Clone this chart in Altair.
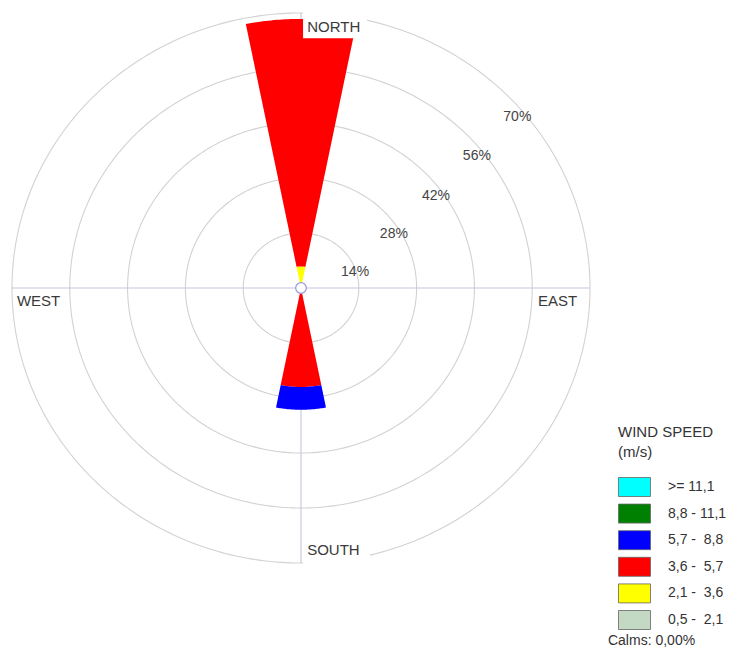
import altair as alt
import pandas as pd
import numpy as np

# ---------------- data ----------------
directions = ["N", "NNE", "NE", "ENE", "E", "ESE", "SE", "SSE",
              "S", "SSW", "SW", "WSW", "W", "WNW", "NW", "NNW"]

# speed classes, from the centre outwards
speed_bins = ["\u00a00,5 -\u00a0\u00a02,1", "\u00a02,1 -\u00a0\u00a03,6", "\u00a03,6 -\u00a0\u00a05,7",
              "\u00a05,7 -\u00a0\u00a08,8", "\u00a08,8 - 11,1", ">= 11,1"]
bin_colors = ["#c4d9c4", "#ffff00", "#ff0000", "#0000ff", "#008000", "#00ffff"]

# frequency (%) per direction for each speed class
freq_05_21 = [0, 0, 0, 0, 0, 0, 0, 0, 0, 0, 0, 0, 0, 0, 0, 0]
freq_21_36 = [5.5, 0, 0, 0, 0, 0, 0, 0, 0, 0, 0, 0, 0, 0, 0, 0]
freq_36_57 = [63.0, 0, 0, 0, 0, 0, 0, 0, 25.2, 0, 0, 0, 0, 0, 0, 0]
freq_57_88 = [0, 0, 0, 0, 0, 0, 0, 0, 5.8, 0, 0, 0, 0, 0, 0, 0]
freq_88_111 = [0, 0, 0, 0, 0, 0, 0, 0, 0, 0, 0, 0, 0, 0, 0, 0]
freq_111 = [0, 0, 0, 0, 0, 0, 0, 0, 0, 0, 0, 0, 0, 0, 0, 0]
freqs = [freq_05_21, freq_21_36, freq_36_57, freq_57_88, freq_88_111, freq_111]

ring_levels = [14, 28, 42, 56, 70]
ring_labels = ["14%", "28%", "42%", "56%", "70%"]
ring_label_x = [13.1, 22.5, 32.7, 42.6, 52.4]
ring_label_y = [4.1, 13.7, 23.4, 33.6, 43.4]

cardinal_labels = ["NORTH", "SOUTH", "WEST", "EAST"]
cardinal_x = [1.5, 1.5, -68.8, 57.4]
cardinal_y = [66.5, -66.7, -3.4, -3.3]

box_x1 = [0.5, 0.5]
box_x2 = [16.0, 16.7]
box_y1 = [63.6, -64.1]
box_y2 = [70.8, -70.8]

calms_text = "Calms: 0,00%"
calms_value = 0.0

# ---------------- geometry helpers ----------------
sector = 360 / len(directions)
rows = []
pid = 0
for d_i, d in enumerate(directions):
    centre = d_i * sector
    r0 = 0.0
    for b_i, b in enumerate(speed_bins):
        f = freqs[b_i][d_i]
        if f <= 0:
            continue
        r1 = r0 + f
        th = np.radians(np.linspace(centre - sector / 2, centre + sector / 2, 40))
        pts = [(r1 * np.sin(t), r1 * np.cos(t)) for t in th]
        pts += [(r0 * np.sin(t), r0 * np.cos(t)) for t in th[::-1]]
        pts.append(pts[0])
        for k, (px, py) in enumerate(pts):
            rows.append({"pid": pid, "bin": b, "k": k, "x": px, "y": py})
        pid += 1
        r0 = r1
wedges = pd.DataFrame(rows)

circ_rows = []
for lv in ring_levels:
    th = np.radians(np.linspace(0, 360, 361))
    for k, t in enumerate(th):
        circ_rows.append({"lv": lv, "k": k, "x": lv * np.sin(t), "y": lv * np.cos(t)})
circles = pd.DataFrame(circ_rows)

outer = max(ring_levels)
cross = pd.DataFrame({"x": [-outer, 0], "x2": [outer, 0], "y": [0, -outer], "y2": [0, outer]})

ring_df = pd.DataFrame({"label": ring_labels, "x": ring_label_x, "y": ring_label_y})
card_df = pd.DataFrame({"label": cardinal_labels, "x": cardinal_x, "y": cardinal_y})
box_df = pd.DataFrame({"x": box_x1, "x2": box_x2, "y": box_y1, "y2": box_y2})
calm_df = pd.DataFrame({"x": [0], "y": [0], "v": [calms_value]})
calm_text_df = pd.DataFrame({"label": [calms_text], "x": [74.35], "y": [-90.86]})

# ---------------- scales ----------------
xs = alt.Scale(domain=[-70.96, 104.63], nice=False, zero=False)
ys = alt.Scale(domain=[-91.88, 71.27], nice=False, zero=False)
FONT = "Liberation Sans"

grid = alt.Chart(circles).mark_line(stroke="#d2d2d2", strokeWidth=1.1).encode(
    x=alt.X("x:Q", scale=xs, axis=None),
    y=alt.Y("y:Q", scale=ys, axis=None),
    detail="lv:N",
    order="k:Q",
)

rules = alt.Chart(cross).mark_rule(stroke="#c4c4e6", strokeWidth=1.1).encode(
    x=alt.X("x:Q", scale=xs, axis=None), x2="x2:Q",
    y=alt.Y("y:Q", scale=ys, axis=None), y2="y2:Q",
)

bars = alt.Chart(wedges).mark_line(strokeWidth=0).encode(
    x=alt.X("x:Q", scale=xs, axis=None),
    y=alt.Y("y:Q", scale=ys, axis=None),
    detail="pid:N",
    order="k:Q",
    fill=alt.Fill(
        "bin:N",
        scale=alt.Scale(domain=speed_bins[::-1], range=bin_colors[::-1]),
        legend=alt.Legend(
            title=["WIND SPEED", "(m/s)"],
            orient="none", legendX=610, legendY=417,
            symbolType="M-1,-1H2.37V1H-1Z", symbolSize=361,
            symbolStrokeColor="#666666", symbolStrokeWidth=0.8,
            symbolOpacity=1,
            labelOffset=30, rowPadding=2.6,
            titleFont=FONT, titleFontSize=15, titleFontWeight="normal",
            titleColor="#333333", titleLineHeight=20, titlePadding=17,
            labelFont=FONT, labelFontSize=14, labelColor="#333333",
        ),
    ),
)

boxes = alt.Chart(box_df).mark_rect(fill="white", stroke=None).encode(
    x=alt.X("x:Q", scale=xs, axis=None), x2="x2:Q",
    y=alt.Y("y:Q", scale=ys, axis=None), y2="y2:Q",
)

ring_text = alt.Chart(ring_df).mark_text(
    align="center", baseline="middle", font=FONT, fontSize=14, color="#444444"
).encode(x=alt.X("x:Q", scale=xs, axis=None), y=alt.Y("y:Q", scale=ys, axis=None), text="label:N")

card_text = alt.Chart(card_df).mark_text(
    align="left", baseline="middle", font=FONT, fontSize=15, color="#3a3a3a"
).encode(x=alt.X("x:Q", scale=xs, axis=None), y=alt.Y("y:Q", scale=ys, axis=None), text="label:N")

calm_pt = alt.Chart(calm_df).mark_point(
    shape="circle", size=113, filled=True, fill="white", stroke="#9c9cdc", strokeWidth=1.3, opacity=1
).encode(x=alt.X("x:Q", scale=xs, axis=None), y=alt.Y("y:Q", scale=ys, axis=None))

calm_txt = alt.Chart(calm_text_df).mark_text(
    align="left", baseline="alphabetic", font=FONT, fontSize=14, color="#333333"
).encode(x=alt.X("x:Q", scale=xs, axis=None), y=alt.Y("y:Q", scale=ys, axis=None), text="label:N")

chart = alt.layer(grid, rules, bars, boxes, ring_text, card_text, calm_pt, calm_txt).properties(
    width=725, height=641,
    autosize=alt.AutoSizeParams(type="none"),
    padding=0,
    background="white",
).configure_view(stroke=None)

chart.save("out.html", embed_options={"renderer": "svg", "actions": False})
